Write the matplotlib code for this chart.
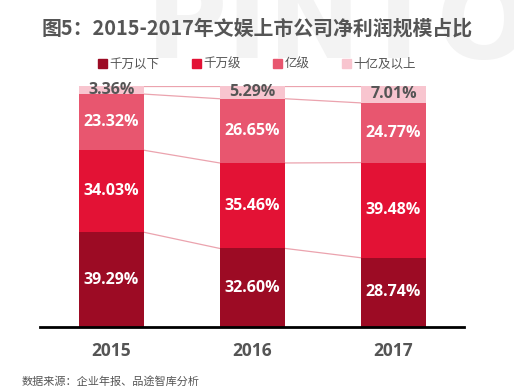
import matplotlib
matplotlib.use("Agg")
import matplotlib.pyplot as plt
import numpy as np

plt.rcParams['font.family'] = ['Noto Sans CJK SC', 'DejaVu Sans']

years = ['2015', '2016', '2017']
series_names = ['千万以下', '千万级', '亿级', '十亿及以上']
below_10m = [39.29, 32.60, 28.74]
tier_10m = [34.03, 35.46, 39.48]
tier_100m = [23.32, 26.65, 24.77]
tier_1b = [3.36, 5.29, 7.01]

series = [below_10m, tier_10m, tier_100m, tier_1b]
colors = ['#9C0B24', '#E31235', '#E8566F', '#F8C5CF']
label_colors = ['white', 'white', 'white', '#555555']

fig = plt.figure(figsize=(5.14, 3.90), dpi=100)
ax = fig.add_axes([40/514, 1-327/390, 424/514, (327-86)/390])

# watermark
fig.text(0.66, 0.93, 'PINTO', fontsize=80, color='#f3f3f3', ha='center', va='center',
         fontweight='bold', family='DejaVu Sans', zorder=0)

x = np.arange(len(years))
width = 0.465
bottom = np.zeros(len(years))
tops = []
for vals, c, lc in zip(series, colors, label_colors):
    vals = np.array(vals)
    ax.bar(x, vals, width, bottom=bottom, color=c, zorder=2)
    for xi, b, v in zip(x, bottom, vals):
        ax.text(xi, b + v/2, f'{v:.2f}%', ha='center', va='center', color=lc,
                fontsize=11.5, fontweight='bold', family=['Open Sans', 'DejaVu Sans'], zorder=4)
    bottom = bottom + vals
    tops.append(bottom.copy())

for t in tops:
    for i in range(len(years)-1):
        ax.plot([x[i] + width/2, x[i+1] - width/2], [t[i], t[i+1]], color='#EBA3AE', lw=0.9, zorder=1)

ax.set_xlim(-0.507, 2.5)
ax.set_ylim(0, 100)
for s in ['top', 'right', 'left']:
    ax.spines[s].set_visible(False)
ax.spines['bottom'].set_linewidth(2)
ax.spines['bottom'].set_color('black')
ax.set_yticks([])
ax.set_xticks(x)
ax.set_xticklabels(years, fontsize=12.5, fontweight='bold', color='#555555',
                   family=['Open Sans', 'DejaVu Sans'])
ax.tick_params(axis='x', length=0, pad=11)
ax.patch.set_alpha(0)

fig.text(0.5, 1-28/390, '图5：2015-2017年文娱上市公司净利润规模占比', ha='center', va='center',
         fontsize=14.3, fontweight='bold', color='#555555')

from matplotlib.patches import Patch
handles = [Patch(color=c) for c in colors]
fig.legend(handles, series_names, loc='center', bbox_to_anchor=(0.5, 1-64/390), ncol=4,
           frameon=False, fontsize=9, handlelength=0.7, handleheight=0.7,
           handletextpad=0.2, columnspacing=2.6, labelcolor='#555555')

fig.text(22/514, 1-381/390, '数据来源：企业年报、品途智库分析', ha='left', va='center',
         fontsize=8, color='#555555')

fig.savefig('out.png', dpi=100)
